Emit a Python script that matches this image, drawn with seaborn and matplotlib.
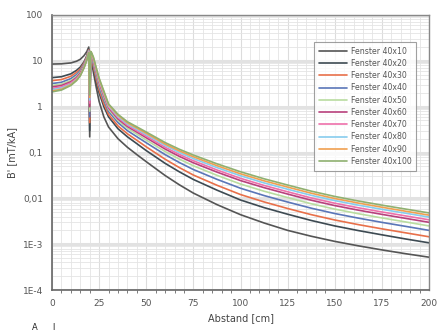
import numpy as np
import pandas as pd
import matplotlib
matplotlib.use("Agg")
import matplotlib.pyplot as plt
import matplotlib.ticker as mticker
import seaborn as sns

# Abstand [cm]: linker Ast, Einbruch bei 20, rechter Ast
abstand = [0, 5, 10, 13, 15, 17, 18.5, 19.5, 20,
           20.5, 21, 22, 23.5, 25, 27.5, 30, 35, 40, 45, 50, 55, 60, 67.5, 75, 87.5,
           100, 112.5, 125, 137.5, 150, 162.5, 175, 187.5, 200]

fenster = ["Fenster 40x10", "Fenster 40x20", "Fenster 40x30", "Fenster 40x40", "Fenster 40x50",
           "Fenster 40x60", "Fenster 40x70", "Fenster 40x80", "Fenster 40x90", "Fenster 40x100"]

b_40x10 = [8.5, 8.6, 9.0, 9.8, 10.8, 13, 16, 20, 0.22,
           15, 10, 5.5, 2.6, 1.3, 0.6, 0.36, 0.2, 0.13, 0.09, 0.063, 0.0445, 0.0315, 0.0198, 0.013, 0.0073,
           0.0044, 0.0029, 0.002, 0.00149, 0.00115, 0.00092, 0.00075, 0.00062, 0.00052]
b_40x20 = [4.3, 4.5, 5.2, 6.2, 7.3, 9.5, 13, 18, 0.3,
           15, 11, 6.5, 3.4, 2.0, 1.0, 0.6, 0.33, 0.22, 0.156, 0.11, 0.0799, 0.058, 0.038, 0.0258, 0.0151,
           0.0092, 0.00627, 0.0045, 0.00329, 0.0025, 0.00198, 0.0016, 0.0013, 0.00107]
b_40x30 = [3.7, 3.9, 4.6, 5.6, 6.6, 9.0, 12.5, 17.5, 0.45,
           15.2, 11.7, 7.35, 3.93, 2.32, 1.17, 0.68, 0.38, 0.256, 0.185, 0.133, 0.0974, 0.0714, 0.047, 0.0322, 0.0193,
           0.0121, 0.00835, 0.006, 0.00441, 0.00337, 0.00267, 0.00216, 0.00177, 0.00145]
b_40x40 = [3.2, 3.4, 4.1, 5.0, 6.1, 8.5, 12, 17, 0.6,
           15.4, 12.5, 8.4, 4.6, 2.73, 1.39, 0.79, 0.45, 0.30, 0.221, 0.163, 0.121, 0.090, 0.0606, 0.0425, 0.026,
           0.0166, 0.0115, 0.0083, 0.0061, 0.00466, 0.0037, 0.00299, 0.00245, 0.002]
b_40x50 = [2.9, 3.1, 3.7, 4.6, 5.7, 8.1, 11.6, 16.5, 0.8,
           15.6, 13.1, 9.25, 5.13, 3.05, 1.57, 0.87, 0.50, 0.34, 0.252, 0.187, 0.14, 0.105, 0.0719, 0.0513, 0.0318,
           0.0205, 0.0143, 0.0104, 0.00762, 0.00582, 0.00462, 0.00374, 0.00306, 0.0025]
b_40x60 = [2.7, 2.9, 3.5, 4.3, 5.4, 7.8, 11.3, 16, 1.0,
           15.7, 13.6, 9.9, 5.6, 3.33, 1.72, 0.94, 0.54, 0.37, 0.279, 0.21, 0.158, 0.119, 0.0825, 0.0596, 0.0374,
           0.0244, 0.0171, 0.0124, 0.0091, 0.00695, 0.00552, 0.00447, 0.00366, 0.003]
b_40x70 = [2.5, 2.7, 3.3, 4.1, 5.1, 7.5, 11, 15.8, 1.2,
           15.8, 14.0, 10.4, 5.95, 3.54, 1.83, 0.99, 0.58, 0.394, 0.299, 0.227, 0.172, 0.130, 0.0907, 0.066, 0.0416,
           0.0273, 0.0191, 0.0139, 0.0102, 0.00782, 0.00622, 0.00504, 0.00414, 0.0034]
b_40x80 = [2.35, 2.55, 3.1, 3.9, 4.9, 7.3, 10.8, 15.5, 1.4,
           15.9, 14.4, 11.0, 6.35, 3.78, 1.97, 1.05, 0.61, 0.42, 0.321, 0.246, 0.188, 0.143, 0.1006, 0.0738, 0.0469,
           0.0311, 0.0217, 0.0158, 0.01164, 0.00893, 0.0071, 0.00576, 0.00474, 0.0039]
b_40x90 = [2.2, 2.4, 3.0, 3.8, 4.8, 7.1, 10.6, 15.2, 1.6,
           16, 14.7, 11.4, 6.67, 3.98, 2.08, 1.1, 0.65, 0.446, 0.343, 0.263, 0.201, 0.153, 0.1089, 0.0807, 0.0516,
           0.0343, 0.0241, 0.0176, 0.01294, 0.00991, 0.00788, 0.0064, 0.00524, 0.0043]
b_40x100 = [2.1, 2.3, 2.9, 3.7, 4.7, 7.0, 10.5, 15, 1.8,
            16, 15, 12, 7, 4.2, 2.2, 1.15, 0.68, 0.47, 0.363, 0.28, 0.215, 0.165, 0.118, 0.088, 0.0567,
            0.038, 0.0267, 0.0195, 0.01435, 0.011, 0.00875, 0.0071, 0.00584, 0.0048]

werte = [b_40x10, b_40x20, b_40x30, b_40x40, b_40x50, b_40x60, b_40x70, b_40x80, b_40x90, b_40x100]

farben = ["#555555", "#3d4a52", "#e8704a", "#5a76b8", "#b9dca0",
          "#b8407c", "#ee70aa", "#86ccee", "#f0a050", "#8fb070"]

rows = []
for name, vals in zip(fenster, werte):
    for x, v in zip(abstand, vals):
        rows.append({"Abstand": x, "B": v, "Fenster": name})
df = pd.DataFrame(rows)

sns.set_style("white")
plt.rcParams['font.family'] = ['DejaVu Sans']

fig = plt.figure(figsize=(4.41, 3.33), dpi=100)
ax = fig.add_axes([52 / 441, 1 - 290 / 333, 377 / 441, 275 / 333])

ax.set_yscale("log")
ax.set_xlim(0, 200)
ax.set_ylim(1e-4, 100)

ax.xaxis.set_major_locator(mticker.MultipleLocator(25))
ax.xaxis.set_minor_locator(mticker.MultipleLocator(5))
ax.yaxis.set_major_locator(mticker.LogLocator(base=10, numticks=10))
ax.yaxis.set_minor_locator(mticker.LogLocator(base=10, subs=np.arange(2, 10), numticks=20))

ax.grid(True, which="minor", color="#e4e4e4", lw=0.6)
ax.grid(True, which="major", axis="x", color="#dcdcdc", lw=0.8)
ax.grid(True, which="major", axis="y", color="#e2e2e2", lw=2.2)
ax.set_axisbelow(True)

sns.lineplot(data=df, x="Abstand", y="B", hue="Fenster", palette=farben,
             estimator=None, sort=False, lw=1.2, ax=ax)

labels_y = {100: "100", 10: "10", 1: "1", 0.1: "0,1", 0.01: "0,01", 1e-3: "1E-3", 1e-4: "1E-4"}
ax.yaxis.set_major_formatter(mticker.FuncFormatter(lambda v, p: labels_y.get(round(v, 6), "")))
ax.yaxis.set_minor_formatter(mticker.NullFormatter())

ax.tick_params(axis="both", which="major", labelsize=6.5, labelcolor="#555555", color="#666666",
               length=3, width=0.8, direction="out")
ax.tick_params(axis="x", which="minor", length=2, width=0.6, color="#666666", bottom=True)
ax.tick_params(axis="y", which="minor", length=0)

for s in ["left", "bottom"]:
    ax.spines[s].set_color("#666666")
    ax.spines[s].set_linewidth(1.2)
for s in ["top", "right"]:
    ax.spines[s].set_color("#888888")
    ax.spines[s].set_linewidth(1.0)

ax.set_xlabel("Abstand [cm]", fontsize=7, color="#444444", labelpad=4)
ax.set_ylabel("B' [mT/kA]", fontsize=7, color="#444444", labelpad=4)

leg = ax.legend(loc="upper right", fontsize=5.6, frameon=True, fancybox=False,
                handlelength=3.6, labelspacing=0.42, borderpad=0.6, handletextpad=0.5)
leg.set_bbox_to_anchor((420 / 441, 1 - 38 / 333), transform=fig.transFigure)
leg.get_frame().set_edgecolor("#888888")
leg.get_frame().set_linewidth(0.8)
for t in leg.get_texts():
    t.set_color("#555555")

fig.text(32 / 441, 1 / 333, "A", fontsize=6, va="bottom", color="#222222")
fig.text(52 / 441, 1 / 333, "l", fontsize=6, va="bottom", color="#222222")

fig.savefig("out.png", dpi=100)
